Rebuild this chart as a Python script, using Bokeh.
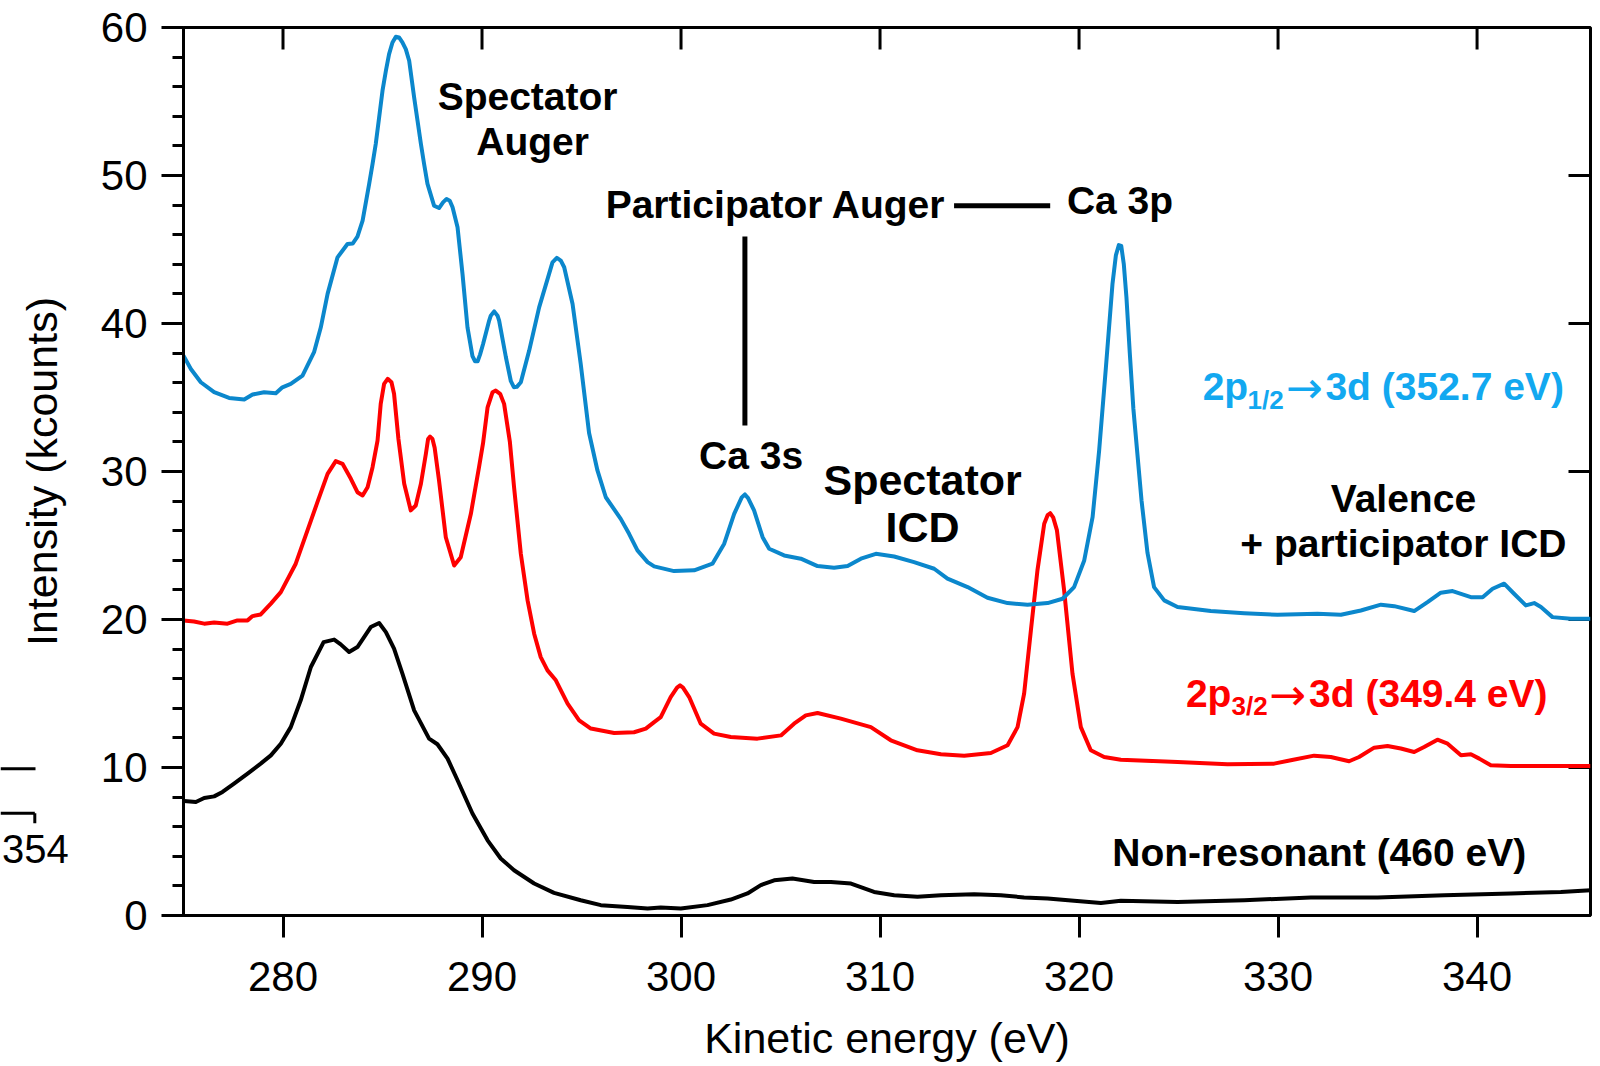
from math import pi
from bokeh.plotting import figure
from bokeh.layouts import row
from bokeh.models import Range1d, SingleIntervalTicker, FixedTicker, Label
from bokeh.core.properties import value
from bokeh.embed import file_html
from bokeh.resources import INLINE

# ---------------- data ----------------
blue_x = [275.0, 275.37, 275.87, 276.54, 277.29, 278.05, 278.47, 279.05, 279.64, 279.97,
          280.39, 280.98, 281.56, 281.9, 282.24, 282.74, 283.24, 283.5, 283.74, 284.0,
          284.33, 284.5, 284.66, 284.83, 285.0, 285.17, 285.33, 285.5, 285.67, 285.83,
          286.0, 286.17, 286.34, 286.59, 286.76, 286.93, 287.09, 287.26, 287.59, 287.84,
          288.05, 288.22, 288.38, 288.52, 288.77, 289.02, 289.27, 289.52, 289.65, 289.78,
          289.9, 290.05, 290.36, 290.44, 290.61, 290.78, 290.86, 291.2, 291.45, 291.6,
          291.75, 291.95, 292.37, 292.87, 293.37, 293.54, 293.76, 293.96, 294.13, 294.55,
          294.96, 295.38, 295.8, 296.22, 296.97, 297.39, 297.81, 298.32, 298.65, 299.65,
          300.66, 301.58, 302.17, 302.67, 303.05, 303.21, 303.37, 303.67, 304.1, 304.43,
          305.18, 306.02, 306.86, 307.69, 308.37, 309.04, 309.79, 310.71, 311.71, 312.72,
          313.39, 314.4, 315.4, 316.41, 317.41, 318.42, 319.17, 319.75, 320.26, 320.68,
          321.01, 321.35, 321.68, 321.85, 322.0, 322.12, 322.25, 322.38, 322.55, 322.73,
          323.14, 323.44, 323.77, 324.28, 324.95, 326.62, 328.3, 329.97, 331.98, 333.16,
          334.16, 335.17, 335.84, 336.84, 337.51, 338.18, 338.77, 339.69, 340.28, 340.78,
          341.36, 341.86, 342.45, 342.87, 343.21, 343.79, 344.71, 345.7]
blue_y = [37.83, 36.93, 36.03, 35.36, 34.97, 34.86, 35.2, 35.36, 35.29, 35.69,
          35.92, 36.48, 38.06, 39.74, 42.0, 44.47, 45.37, 45.4, 45.87, 46.95,
          49.43, 50.78, 52.13, 53.92, 55.73, 57.08, 58.2, 58.99, 59.37, 59.33,
          58.99, 58.54, 57.75, 55.27, 53.7, 52.13, 50.78, 49.43, 47.96, 47.8,
          48.2, 48.41, 48.3, 47.85, 46.5, 43.35, 39.74, 37.8, 37.45, 37.45,
          37.9, 38.6, 40.2, 40.53, 40.82, 40.53, 40.2, 37.72, 36.1, 35.7,
          35.72, 36.03, 38.17, 41.09, 43.35, 44.13, 44.43, 44.25, 43.8, 41.32,
          37.27, 32.6, 30.07, 28.26, 26.8, 25.79, 24.67, 23.88, 23.59, 23.27,
          23.32, 23.77, 25.12, 27.14, 28.25, 28.45, 28.2, 27.37, 25.56, 24.78,
          24.33, 24.11, 23.61, 23.5, 23.61, 24.11, 24.44, 24.26, 23.88, 23.43,
          22.76, 22.19, 21.47, 21.11, 21.0, 21.11, 21.4, 22.19, 23.99, 26.91,
          31.42, 37.04, 42.67, 44.6, 45.3, 45.25, 44.0, 41.8, 38.0, 34.24,
          28.04, 24.5, 22.19, 21.29, 20.84, 20.57, 20.43, 20.32, 20.39, 20.32,
          20.61, 21.0, 20.9, 20.57, 21.17, 21.81, 21.92, 21.51, 21.51, 22.08,
          22.42, 21.74, 20.95, 21.11, 20.84, 20.16, 20.05, 20.05]

red_x = [275.0, 275.53, 276.04, 276.54, 277.21, 277.71, 278.22, 278.47, 278.88, 279.39,
         279.89, 280.64, 281.23, 281.73, 282.24, 282.65, 282.99, 283.41, 283.74, 284.0,
         284.25, 284.5, 284.75, 284.91, 285.08, 285.26, 285.45, 285.58, 285.8, 286.09,
         286.42, 286.67, 286.93, 287.18, 287.29, 287.39, 287.51, 287.62, 287.84, 288.18,
         288.6, 288.93, 289.44, 289.85, 290.05, 290.28, 290.53, 290.69, 290.91, 291.11,
         291.4, 291.61, 291.95, 292.29, 292.62, 292.95, 293.29, 293.71, 294.3, 294.88,
         295.47, 296.64, 297.64, 298.23, 298.65, 298.98, 299.48, 299.8, 299.95, 300.1,
         300.41, 300.99, 301.66, 302.5, 303.84, 305.02, 305.68, 306.27, 306.86, 308.03,
         309.54, 310.54, 311.88, 313.06, 314.23, 315.57, 316.41, 316.91, 317.24, 317.58,
         317.91, 318.25, 318.42, 318.55, 318.7, 318.89, 319.25, 319.67, 320.09, 320.59,
         321.26, 322.1, 324.95, 327.46, 329.8, 330.64, 331.81, 332.65, 333.57, 334.07,
         334.83, 335.5, 336.17, 336.84, 337.34, 338.01, 338.52, 339.19, 339.69, 340.11,
         340.69, 341.7, 343.37, 345.7]
red_y = [19.94, 19.87, 19.72, 19.8, 19.72, 19.94, 19.94, 20.23, 20.34, 21.07,
         21.85, 23.77, 26.02, 27.93, 29.84, 30.7, 30.52, 29.51, 28.6, 28.38,
         28.94, 30.29, 32.09, 34.57, 35.92, 36.26, 36.03, 35.25, 32.2, 29.17,
         27.37, 27.7, 29.17, 31.2, 32.2, 32.36, 32.2, 31.6, 29.39, 25.56,
         23.65, 24.21, 27.14, 30.29, 31.9, 34.34, 35.36, 35.47, 35.25, 34.57,
         32.0, 28.94, 24.44, 21.29, 19.04, 17.46, 16.56, 15.89, 14.31, 13.19,
         12.63, 12.33, 12.38, 12.63, 13.07, 13.4, 14.76, 15.4, 15.55, 15.4,
         14.76, 12.96, 12.29, 12.06, 11.95, 12.17, 12.96, 13.52, 13.68, 13.3,
         12.73, 11.84, 11.16, 10.89, 10.8, 10.98, 11.5, 12.73, 14.99, 19.26,
         23.32, 26.47, 27.05, 27.18, 26.9, 26.02, 21.97, 16.34, 12.73, 11.16,
         10.71, 10.53, 10.37, 10.22, 10.26, 10.49, 10.8, 10.71, 10.42, 10.71,
         11.34, 11.45, 11.28, 11.05, 11.38, 11.88, 11.61, 10.82, 10.89, 10.6,
         10.15, 10.1, 10.1, 10.1]

black_x = [275.03, 275.62, 276.04, 276.54, 276.96, 277.54, 278.22, 278.88, 279.39, 279.89,
           280.39, 280.89, 281.4, 282.04, 282.57, 282.9, 283.32, 283.74, 284.41, 284.83,
           285.17, 285.58, 286.0, 286.59, 287.34, 287.76, 288.27, 288.77, 289.52, 290.28,
           290.94, 291.61, 292.62, 293.62, 294.96, 295.97, 297.31, 298.32, 298.98, 299.99,
           301.33, 302.5, 303.34, 304.01, 304.68, 305.6, 306.69, 307.53, 308.54, 309.7,
           310.71, 311.88, 313.06, 314.73, 316.07, 317.24, 318.42, 319.75, 321.1, 322.1,
           324.95, 328.3, 331.65, 335.0, 338.35, 341.7, 344.21, 345.7]
black_y = [7.74, 7.67, 7.94, 8.05, 8.35, 8.91, 9.59, 10.26, 10.82, 11.61,
           12.73, 14.54, 16.79, 18.47, 18.64, 18.32, 17.8, 18.14, 19.49, 19.76,
           19.15, 18.03, 16.34, 13.86, 11.95, 11.57, 10.6, 9.14, 6.89, 5.08,
           3.85, 3.06, 2.16, 1.53, 1.03, 0.7, 0.58, 0.47, 0.54, 0.47,
           0.7, 1.08, 1.49, 2.05, 2.38, 2.5, 2.27, 2.27, 2.16, 1.59,
           1.37, 1.26, 1.37, 1.44, 1.37, 1.22, 1.15, 0.99, 0.85, 0.99,
           0.92, 1.03, 1.22, 1.22, 1.37, 1.49, 1.59, 1.71]

x_ticks = [280, 290, 300, 310, 320, 330, 340]
y_ticks = [0, 10, 20, 30, 40, 50, 60]
X_MIN, X_MAX, Y_MIN, Y_MAX = 275, 345.7, 0, 60

BLUE_LINE = "#0b87cc"
BLUE_TEXT = "#12a8f0"
RED = "#ff0000"
FONT = "Liberation Sans"

# frame geometry (pixels)
LEFT_STRIP = 70
TOP, BOTTOM_BORDER = 27, 151
FRAME_W, FRAME_H = 1407, 1066 - TOP - BOTTOM_BORDER
TICK = 22

# ---------------- main figure ----------------
p = figure(width=1600 - LEFT_STRIP, height=1066, output_backend="svg",
           toolbar_location=None,
           x_range=Range1d(X_MIN, X_MAX), y_range=Range1d(Y_MIN, Y_MAX),
           min_border_left=183 - LEFT_STRIP, min_border_right=10,
           min_border_top=TOP, min_border_bottom=BOTTOM_BORDER,
           background_fill_color="white", border_fill_color="white")
p.grid.visible = False
p.outline_line_color = "black"
p.outline_line_width = 3

xa = p.xaxis[0]
xa.ticker = FixedTicker(ticks=x_ticks, minor_ticks=[])
xa.axis_label = "Kinetic energy (eV)"
ya = p.yaxis[0]
ya.ticker = SingleIntervalTicker(interval=10, num_minor_ticks=5)
for ax in (xa, ya):
    ax.axis_line_width = 3
    ax.major_tick_line_width = 3
    ax.minor_tick_line_width = 3
    ax.major_tick_out = TICK
    ax.major_tick_in = 0
    ax.major_label_text_font = FONT
    ax.major_label_text_font_size = "42px"
    ax.major_label_text_color = "black"
    ax.axis_label_text_font = FONT
    ax.axis_label_text_font_size = "43px"
    ax.axis_label_text_font_style = "normal"
    ax.axis_label_text_color = "black"
xa.minor_tick_out = 0
xa.minor_tick_in = 0
xa.major_label_standoff = 24
xa.axis_label_standoff = 20
ya.minor_tick_out = 11
ya.minor_tick_in = 0
ya.major_label_standoff = 14

# inward ticks on the top and right frame edges
ty = TICK * (Y_MAX - Y_MIN) / FRAME_H
tx = TICK * (X_MAX - X_MIN) / FRAME_W
p.segment(x_ticks, [Y_MAX] * len(x_ticks), x_ticks, [Y_MAX - ty] * len(x_ticks),
          line_color="black", line_width=3)
p.segment([X_MAX] * len(y_ticks), y_ticks, [X_MAX - tx] * len(y_ticks), y_ticks,
          line_color="black", line_width=3)

# ---------------- curves ----------------
p.line(black_x, black_y, line_color="black", line_width=4, line_join="round")
p.line(red_x, red_y, line_color=RED, line_width=4, line_join="round")
p.line(blue_x, blue_y, line_color=BLUE_LINE, line_width=4, line_join="round")

# annotation connector lines
seg_x0 = [313.72, 303.21]
seg_y0 = [47.96, 45.87]
seg_x1 = [318.55, 303.21]
seg_y1 = [47.96, 33.11]
p.segment(seg_x0, seg_y0, seg_x1, seg_y1, line_color="black", line_width=5)


def lab(x, y, text, size="39px", color="black", align="center", bold=True, font=FONT):
    p.add_layout(Label(x=x, y=y, text=text, text_font=font, text_font_size=size,
                       text_font_style="bold" if bold else "normal",
                       text_color=color, text_align=align,
                       text_baseline="middle"))


lab(292.29, 55.35, "Spectator")
lab(292.54, 52.27, "Auger")
lab(313.31, 48.03, "Participator Auger", align="right")
lab(319.39, 48.3, "Ca 3p", align="left")
lab(303.52, 31.05, "Ca 3s")
lab(312.14, 29.45, "Spectator", size="43px")
lab(312.14, 26.28, "ICD", size="43px")
lab(336.3, 28.16, "Valence")
lab(336.3, 25.15, "+ participator ICD")
lab(332.07, 4.27, "Non-resonant (460 eV)")

# blue series label with subscript
lab(326.21, 35.75, "2p", color=BLUE_TEXT, align="left")
lab(328.47, 34.85, "1/2", size="26px", color=BLUE_TEXT, align="left")
lab(330.39, 35.69, "\u2192", size="44px", color=BLUE_TEXT, align="left", bold=False,
    font="DejaVu Sans")
lab(332.38, 35.75, "3d (352.7 eV)", color=BLUE_TEXT, align="left")
# red series label with subscript
lab(325.37, 14.97, "2p", color=RED, align="left")
lab(327.66, 14.14, "3/2", size="26px", color=RED, align="left")
lab(329.55, 14.91, "\u2192", size="44px", color=RED, align="left", bold=False,
    font="DejaVu Sans")
lab(331.56, 14.97, "3d (349.4 eV)", color=RED, align="left")

# ---------------- left strip: y-axis title and fragments of a neighbouring panel ----------------
# the strip's frame is aligned with the main frame (pixel rows TOP .. TOP+FRAME_H),
# so its y range is expressed in page pixel rows
pl = figure(width=LEFT_STRIP, height=1066, output_backend="svg", toolbar_location=None,
            x_range=Range1d(0, LEFT_STRIP), y_range=Range1d(TOP + FRAME_H, TOP),
            min_border=0, min_border_top=TOP, min_border_bottom=BOTTOM_BORDER,
            x_axis_type=None, y_axis_type=None,
            background_fill_color="white", border_fill_color="white")
pl.grid.visible = False
pl.outline_line_color = None
pl.text(x=[41], y=[471], text=["Intensity (kcounts)"], angle=pi / 2,
        text_font=value(FONT), text_font_size="43px", text_align="center",
        text_baseline="middle", text_color="black")
pl.text(x=[1.5], y=[848.3], text=["354"], text_font=value(FONT),
        text_font_size="40px", text_align="left", text_baseline="middle",
        text_color="black")
pl.segment([0, 0, 34.3], [768.3, 812.7, 812.7], [35, 34.3, 34.3], [768.3, 812.7, 822.7],
           line_color="black", line_width=3)

layout = row(pl, p, spacing=0)
open("out.html", "w").write(file_html(layout, INLINE))
